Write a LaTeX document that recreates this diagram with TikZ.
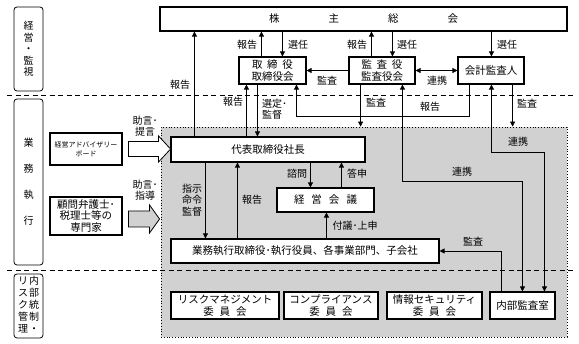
\documentclass[tikz,border=0pt]{standalone}
\usepackage{fontspec}
\setmainfont{Noto Sans CJK JP}
\usetikzlibrary{arrows.meta,calc,positioning}

\begin{document}
\begin{tikzpicture}[
    x=1pt, y=-1pt,
    every node/.style={font=\fontsize{10}{11.5}\selectfont,align=center},
    box/.style={
        draw=black,
        line width=1.1pt,
        fill=white,
        inner sep=1pt,
        font=\fontsize{10.5}{12}\selectfont
    },
    sidebox/.style={
        draw=black,
        line width=0.8pt,
        rounded corners=3pt,
        inner sep=0pt,
        minimum width=29pt
    },
    lbl/.style={inner sep=0pt},
    arrow/.style={-{Triangle[length=5pt,width=5pt]},line width=0.8pt},
    twoway/.style={{Triangle[length=5pt,width=5pt]}-{Triangle[length=5pt,width=5pt]},line width=0.8pt},
    divider/.style={dash pattern=on 5pt off 3.5pt,line width=0.8pt},
    fatarrow/.style={draw=black,line width=0.8pt,line join=miter}
]
\useasboundingbox (0,0) rectangle (579,344);

% Business execution area
\node[draw, dotted, line width=0.8pt, fill=black!18, inner sep=0pt,
      minimum width=406pt, minimum height=210pt] (area) at (364,232) {};

% Dividers
\draw[divider] (7,95) -- (573,95);
\draw[divider] (7,270) -- (573,270);

% Side labels
\node[sidebox, minimum height=84pt] (side-top) at (28.5,49)
{経\\営\\・\\監\\視};
\node[sidebox, minimum height=166pt] (side-mid) at (28.5,182)
{業\\[14.5pt]務\\[14.5pt]執\\[14.5pt]行};
\node[sidebox, minimum height=64pt] (side-bot) at (28.5,306)
{\begin{tabular}{@{}c@{\hspace{1pt}}c@{}}
リ&内\\ス&部\\ク&統\\管&制\\理&・
\end{tabular}};

% Governance
\node[box, minimum width=407pt, minimum height=24pt] (agm) at (363.5,19)
{株\hspace{49pt}主\hspace{49pt}総\hspace{49pt}会};
\node[box, minimum width=67pt, minimum height=27pt] (board) at (272.5,70.5)
{取\hspace{4.75pt}締\hspace{4.75pt}役\\取締役会};
\node[box, minimum width=66pt, minimum height=27pt] (kansa) at (382,70.5)
{監\hspace{4.75pt}査\hspace{4.75pt}役\\監査役会};
\node[box, minimum width=66pt, minimum height=27pt] (auditor) at (491,70.5)
{会計監査人};

% Execution
\node[box, minimum width=194pt, minimum height=25pt] (ceo) at (268,149.5)
{代表取締役社長};
\node[box, minimum width=97pt, minimum height=24pt] (mgmt) at (325.5,200)
{経\hspace{7pt}営\hspace{7pt}会\hspace{7pt}議};
\node[box, minimum width=268pt, minimum height=24pt] (exec) at (305,251)
{業務執行取締役･執行役員、各事業部門、子会社};

% Outside advisers
\node[box, minimum width=72pt, minimum height=32pt,
      font=\fontsize{7}{9}\selectfont] (advisory) at (86,149)
{経営アドバイザリー\\ボード};
\node[box, minimum width=72pt, minimum height=38pt,
      font=\fontsize{10.5}{11.5}\selectfont] (experts) at (86,216)
{顧問弁護士･\\税理士等の\\専門家};

% Internal control
\node[box, minimum width=108pt, minimum height=27pt] (risk) at (225,305.5)
{リスクマネジメント\\委\hspace{6pt}員\hspace{6pt}会};
\node[box, minimum width=94pt, minimum height=27pt] (comp) at (331,305.5)
{コンプライアンス\\委\hspace{6pt}員\hspace{6pt}会};
\node[box, minimum width=95pt, minimum height=27pt] (infosec) at (434.5,305.5)
{情報セキュリティ\\委\hspace{6pt}員\hspace{6pt}会};
\node[box, minimum width=65pt, minimum height=27pt] (internal) at (522.5,305.5)
{内部監査室};

% Advice arrows
\draw[fatarrow, fill=white] ([xshift=6pt]advisory.east) ++(0,-7.5)
    -- ++(30,0) -- ++(0,-5.5) -- ++(12,13) -- ++(-12,13) -- ++(0,-5.5) -- ++(-30,0) -- cycle;
\draw[fatarrow, fill=black!18] ([xshift=6pt,yshift=-3pt]experts.east) ++(0,-8)
    -- ++(21,0) -- ++(0,-6) -- ++(10,14) -- ++(-10,14) -- ++(0,-6) -- ++(-21,0) -- cycle;
\node[lbl] (l-advice1) at (145,126) {助言･\\提言};
\node[lbl] (l-advice2) at (145,190) {助言･\\指導};

% Shareholders relations
\draw[arrow] ([xshift=24pt]ceo.north west) -- ([xshift=35pt]agm.south west);
\draw[arrow] ([xshift=23pt]board.north west) -- ([xshift=102pt]agm.south west);
\draw[arrow] ([xshift=123pt]agm.south west) -- ([xshift=44pt]board.north west);
\draw[arrow] ([xshift=23pt]kansa.north west) -- ([xshift=212pt]agm.south west);
\draw[arrow] ([xshift=233pt]agm.south west) -- ([xshift=44pt]kansa.north west);
\draw[arrow] ([xshift=332pt]agm.south west) -- ([xshift=34pt]auditor.north west);
\node[lbl] (l-rep-ceo) at (180,85) {報告};
\node[lbl] (l-rep-board) at (247,45) {報告};
\node[lbl] (l-sel-board) at (298,45) {選任};
\node[lbl] (l-rep-kansa) at (357,45) {報告};
\node[lbl] (l-sel-kansa) at (407,45) {選任};
\node[lbl] (l-sel-auditor) at (507,45) {選任};

% Audit relations
\draw[arrow] (kansa.west) -- (board.east);
\draw[twoway] (kansa.east) -- (auditor.west);
\node[lbl] (l-audit-board) at (327,81) {監査};
\node[lbl] (l-link-auditor) at (437,81) {連携};
\draw[arrow] ([xshift=12pt]auditor.south west) -- ++(0,32) -| ([xshift=58pt]board.south west);
\node[lbl] (l-rep-auditor) at (430,107) {報告};
\draw[arrow] ([xshift=12pt]kansa.south west) -- ([xshift=200pt]area.north west);
\draw[arrow] ([xshift=55pt]auditor.south west) -- ([xshift=352pt]area.north west);
\node[lbl] (l-audit-kansa) at (376,103) {監査};
\node[lbl] (l-audit-auditor) at (527,104) {監査};
\draw[twoway] ([xshift=34pt]auditor.south west) -- ++(0,68) -| ([xshift=55pt]internal.north west);
\draw[twoway] ([xshift=54pt]kansa.south west) -- ++(0,97) -| ([xshift=33pt]internal.north west);
\node[lbl] (l-link-internal1) at (518,142) {連携};
\node[lbl] (l-link-internal2) at (462,172) {連携};

% Board and president
\draw[arrow] ([xshift=76pt]ceo.north west) -- ([xshift=8pt]board.south west);
\draw[arrow] ([xshift=19pt]board.south west) -- ([xshift=87pt]ceo.north west);
\node[lbl] (l-rep-pres) at (233,102) {報告};
\node[lbl, anchor=west, align=left] (l-elect) at (262,109) {選定･\\監督};

% President, committee and execution
\draw[arrow] ([xshift=140pt]ceo.south west) -- ([xshift=34pt]mgmt.north west);
\draw[arrow] ([xshift=65pt]mgmt.north west) -- ([xshift=171pt]ceo.south west);
\node[lbl] (l-consult) at (297,174) {諮問};
\node[lbl] (l-answer) at (357,174) {答申};
\draw[arrow] ([xshift=35pt]ceo.south west) -- ([xshift=35pt]exec.north west);
\draw[arrow] ([xshift=67pt]exec.north west) -- ([xshift=67pt]ceo.south west);
\draw[arrow] ([xshift=156pt]exec.north west) -- ([xshift=50pt]mgmt.south west);
\node[lbl] (l-order) at (192,200) {指示\\命令\\監督};
\node[lbl] (l-rep-exec) at (252,200) {報告};
\node[lbl] (l-submit) at (355,226) {付議･上申};
\draw[arrow] ([xshift=12pt]internal.north west) |- (exec.east);
\node[lbl] (l-audit-exec) at (473,242) {監査};

\end{tikzpicture}
\end{document}
